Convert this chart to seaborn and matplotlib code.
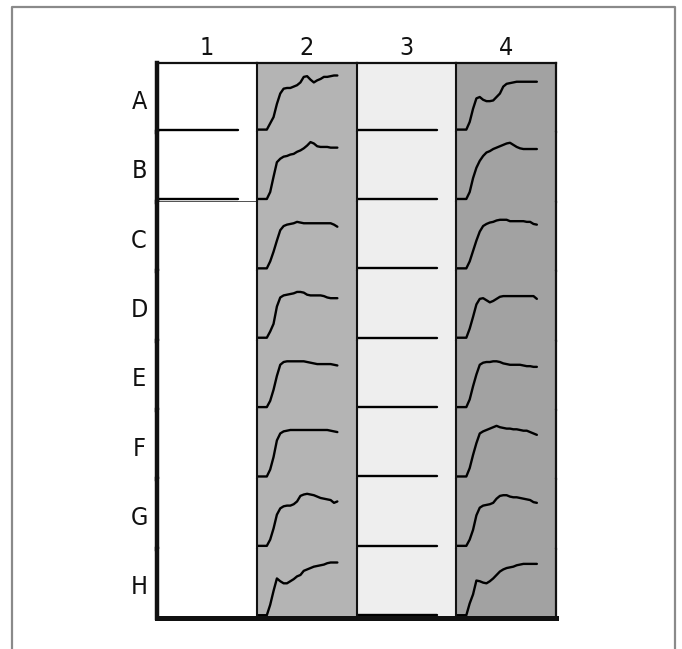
import matplotlib
matplotlib.use("Agg")
import matplotlib.pyplot as plt
import seaborn as sns
import pandas as pd
import numpy as np
from matplotlib.lines import Line2D

# ---------------- data ----------------
row_labels = ["A", "B", "C", "D", "E", "F", "G", "H"]
col_labels = ["1", "2", "3", "4"]
times = list(range(25))

# column 2 growth curves (rows A..H), in units of cell height
col2_A = [0, 0, 0, 0, 0.09, 0.18, 0.37, 0.52, 0.59, 0.60, 0.60, 0.62, 0.64, 0.68, 0.76, 0.77, 0.72, 0.68, 0.71, 0.73, 0.76, 0.76, 0.77, 0.78, 0.78]
col2_B = [0, 0, 0, 0, 0.10, 0.32, 0.53, 0.58, 0.61, 0.62, 0.64, 0.65, 0.68, 0.70, 0.73, 0.77, 0.82, 0.80, 0.76, 0.75, 0.75, 0.75, 0.74, 0.74, 0.74]
col2_C = [0, 0, 0, 0, 0.10, 0.24, 0.40, 0.55, 0.61, 0.63, 0.64, 0.65, 0.67, 0.66, 0.65, 0.65, 0.65, 0.65, 0.65, 0.65, 0.65, 0.65, 0.65, 0.63, 0.60]
col2_D = [0, 0, 0, 0, 0.09, 0.20, 0.45, 0.58, 0.61, 0.62, 0.63, 0.64, 0.66, 0.66, 0.65, 0.62, 0.61, 0.61, 0.61, 0.61, 0.60, 0.58, 0.57, 0.57, 0.57]
col2_E = [0, 0, 0, 0, 0.09, 0.25, 0.45, 0.61, 0.65, 0.66, 0.66, 0.66, 0.66, 0.66, 0.66, 0.65, 0.64, 0.63, 0.62, 0.62, 0.62, 0.62, 0.62, 0.61, 0.60]
col2_F = [0, 0, 0, 0, 0.10, 0.28, 0.52, 0.62, 0.65, 0.66, 0.67, 0.67, 0.67, 0.67, 0.67, 0.67, 0.67, 0.67, 0.67, 0.67, 0.67, 0.67, 0.66, 0.65, 0.64]
col2_G = [0, 0, 0, 0, 0.09, 0.25, 0.45, 0.54, 0.57, 0.58, 0.58, 0.60, 0.64, 0.72, 0.74, 0.75, 0.74, 0.73, 0.71, 0.69, 0.68, 0.67, 0.66, 0.62, 0.64]
col2_H = [0, 0, 0, 0, 0.15, 0.35, 0.53, 0.49, 0.46, 0.46, 0.49, 0.52, 0.56, 0.58, 0.64, 0.66, 0.68, 0.70, 0.71, 0.72, 0.73, 0.75, 0.76, 0.76, 0.76]

# column 4 growth curves (rows A..H)
col4_A = [0, 0, 0, 0, 0.11, 0.30, 0.45, 0.47, 0.43, 0.41, 0.41, 0.42, 0.47, 0.52, 0.62, 0.66, 0.67, 0.68, 0.69, 0.69, 0.69, 0.69, 0.69, 0.69, 0.69]
col4_B = [0, 0, 0, 0, 0.10, 0.30, 0.45, 0.55, 0.62, 0.67, 0.69, 0.72, 0.74, 0.76, 0.78, 0.80, 0.81, 0.78, 0.75, 0.73, 0.72, 0.72, 0.72, 0.72, 0.72]
col4_C = [0, 0, 0, 0, 0.10, 0.25, 0.40, 0.53, 0.61, 0.64, 0.66, 0.67, 0.69, 0.70, 0.70, 0.70, 0.68, 0.68, 0.68, 0.68, 0.68, 0.67, 0.67, 0.64, 0.63]
col4_D = [0, 0, 0, 0, 0.13, 0.30, 0.48, 0.56, 0.57, 0.54, 0.51, 0.53, 0.56, 0.59, 0.60, 0.60, 0.60, 0.60, 0.60, 0.60, 0.60, 0.60, 0.60, 0.60, 0.56]
col4_E = [0, 0, 0, 0, 0.11, 0.30, 0.47, 0.61, 0.64, 0.65, 0.65, 0.66, 0.66, 0.65, 0.63, 0.62, 0.61, 0.61, 0.61, 0.61, 0.60, 0.59, 0.59, 0.58, 0.58]
col4_F = [0, 0, 0, 0, 0.12, 0.31, 0.48, 0.62, 0.65, 0.67, 0.69, 0.71, 0.73, 0.71, 0.70, 0.69, 0.69, 0.68, 0.68, 0.67, 0.66, 0.66, 0.64, 0.62, 0.60]
col4_G = [0, 0, 0, 0, 0.09, 0.23, 0.44, 0.55, 0.58, 0.59, 0.60, 0.62, 0.68, 0.72, 0.73, 0.73, 0.71, 0.70, 0.70, 0.69, 0.68, 0.67, 0.66, 0.63, 0.62]
col4_H = [0, 0, 0, 0, 0.17, 0.30, 0.50, 0.49, 0.47, 0.46, 0.49, 0.53, 0.58, 0.63, 0.66, 0.68, 0.69, 0.70, 0.72, 0.73, 0.74, 0.74, 0.74, 0.74, 0.74]

# columns 1 and 3: flat (no growth) traces
flat_trace = [0.0] * 25
col1_rows_with_trace = ["A", "B"]
col3_rows_with_trace = ["A", "B", "C", "D", "E", "F", "G", "H"]

col2_curves = [col2_A, col2_B, col2_C, col2_D, col2_E, col2_F, col2_G, col2_H]
col4_curves = [col4_A, col4_B, col4_C, col4_D, col4_E, col4_F, col4_G, col4_H]

# ---------------- build long table ----------------
records = []
for r_i, r in enumerate(row_labels):
    for c in col_labels:
        if c == "1":
            vals = flat_trace if r in col1_rows_with_trace else None
        elif c == "2":
            vals = col2_curves[r_i]
        elif c == "3":
            vals = flat_trace if r in col3_rows_with_trace else None
        else:
            vals = col4_curves[r_i]
        if vals is None:
            continue
        for t, v in zip(times, vals):
            records.append({"row": r, "col": c, "time": t, "value": v})
df = pd.DataFrame(records)

# ---------------- styling ----------------
sns.set_style("white")
plt.rcParams["font.family"] = ["DejaVu Sans", "Liberation Sans"]

col_bg = {"1": "#ffffff", "2": "#b4b4b4", "3": "#eeeeee", "4": "#a2a2a2"}

W, H = 682, 649
fig, axes = plt.subplots(8, 4, figsize=(W / 100, H / 100), dpi=100,
                         gridspec_kw=dict(hspace=0, wspace=0))
left_px, right_px, top_px, bot_px = 157, 556, 63, 618
fig.subplots_adjust(left=left_px / W, right=right_px / W,
                    top=1 - top_px / H, bottom=1 - bot_px / H)

label_kw = dict(fontsize=18, color="#111111", fontstretch="condensed",
                fontweight="light")

for r_i, r in enumerate(row_labels):
    for c_i, c in enumerate(col_labels):
        ax = axes[r_i, c_i]
        ax.set_facecolor(col_bg[c])
        sub = df[(df["row"] == r) & (df["col"] == c)]
        if len(sub):
            sns.lineplot(data=sub, x="time", y="value", ax=ax, color="black",
                         linewidth=1.7, estimator=None, legend=False)
        ax.set_xlim(0, 29.7)
        ax.set_ylim(-0.04, 0.96)
        ax.set_xticks([])
        ax.set_yticks([])
        ax.set_xlabel("")
        ax.set_ylabel("")
        for s in ax.spines.values():
            s.set_visible(False)
        # row separators (faint dotted)
        if r_i < 7:
            sp = ax.spines["bottom"]
            sp.set_visible(True)
            sp.set_color("#c9c9c9" if c in ("1", "3") else "#bcbcbc")
            sp.set_linestyle((0, (2, 2)))
            sp.set_linewidth(0.7)
        # column separators
        if c_i > 0:
            sp = ax.spines["left"]
            sp.set_visible(True)
            sp.set_color("#111111")
            sp.set_linewidth(1.5)
        # outer frame
        if c_i == 0:
            sp = ax.spines["left"]
            sp.set_visible(True)
            sp.set_color("#111111")
            sp.set_linewidth(3.2)
            sp.set_zorder(5)
        if c_i == 3:
            sp = ax.spines["right"]
            sp.set_visible(True)
            sp.set_color("#111111")
            sp.set_linewidth(1.6)
        if r_i == 0:
            sp = ax.spines["top"]
            sp.set_visible(True)
            sp.set_color("#111111")
            sp.set_linewidth(1.6)
        if r_i == 7:
            sp = ax.spines["bottom"]
            sp.set_visible(True)
            sp.set_color("#111111")
            sp.set_linestyle("-")
            sp.set_linewidth(3.6)
        # row labels
        if c_i == 0:
            ax.text(-0.18, 0.44, r, transform=ax.transAxes, ha="center",
                    va="center", **label_kw)
        if r_i == 0:
            ax.text(0.5, 1.04, c, transform=ax.transAxes, ha="center",
                    va="bottom", **label_kw)

# darker separator under row B in column 1
sp = axes[1, 0].spines["bottom"]
sp.set_color("#222222")
sp.set_linestyle("-")
sp.set_linewidth(1.1)

# outer light frame around the whole figure (open at the bottom)
fx = [12 / W, 12 / W, 675 / W, 675 / W]
fy = [0, 1 - 7 / H, 1 - 7 / H, 0]
fig.add_artist(Line2D(fx, fy, transform=fig.transFigure, color="#8a8a8a",
                      linewidth=1.6))

fig.savefig("out.png", dpi=100)
